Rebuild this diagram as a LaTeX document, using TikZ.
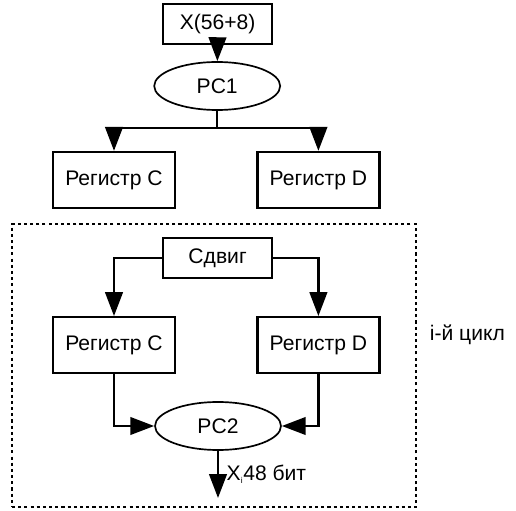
\documentclass[tikz,border=0pt]{standalone}
\usepackage{fontspec}
\setmainfont{Liberation Sans}
\usepackage{tikz}
\usetikzlibrary{shapes.geometric,arrows.meta,positioning,calc}

\begin{document}
\begin{tikzpicture}[
  box/.style={draw, line width=1.6pt, minimum width=3.05cm, minimum height=1.4cm, inner sep=0pt, align=center, font=\fontsize{15}{17}\selectfont},
  smallbox/.style={box, minimum width=2.72cm, minimum height=1.0cm},
  pcbox/.style={draw, ellipse, line width=1.2pt, minimum width=3.15cm, minimum height=1.2cm, inner sep=0pt, font=\fontsize{15}{17}\selectfont},
  roundframe/.style={draw, line width=1.4pt, dash pattern=on 2.2pt off 2.2pt, minimum width=10.1cm, minimum height=7.08cm, inner sep=0pt},
  link/.style={line width=1.7pt, -{Triangle[length=17pt,width=12.5pt]}},
  line width=1.7pt
]
\useasboundingbox (0,0) rectangle (12.9,12.75);

% -- key preparation: input, PC1, split into C and D
\node[smallbox] (xin) at (5.44,12.15) {X(56+8)};
\node[pcbox] (pc1) at (5.43,10.6) {PC1};
\node[box] (rc1) at (2.85,8.25) {Регистр C};
\node[box] (rd1) at (7.96,8.25) {Регистр D};
\coordinate (split) at (5.43,9.55);

\draw[link] (xin) -- (pc1);
\draw (pc1) -- (split);
\draw[link] (split) -| (rc1);
\draw[link] (split) -| (rd1);

% -- one round, inside the dotted frame
\node[roundframe] (round) at (5.35,3.61) {};
\node[font=\fontsize{15}{17}\selectfont, anchor=west] (roundlbl) at (10.6,4.38) {i-й цикл};

\node[smallbox] (shift) at (5.44,6.3) {Сдвиг};
\node[box] (rc2) at (2.85,4.12) {Регистр C};
\node[box] (rd2) at (7.96,4.12) {Регистр D};
\node[pcbox] (pc2) at (5.45,2.1) {PC2};
\coordinate (out) at (5.45,0.3);

\draw[link] (shift.west) -| (rc2);
\draw[link] (shift.east) -| (rd2);
\draw[link] (rc2.south) |- (pc2.west);
\draw[link] (rd2.south) |- (pc2.east);
\draw[link] (pc2) -- node[right=2pt, font=\fontsize{15}{17}\selectfont] (outlbl) {X\textsubscript{\fontsize{6}{6}\selectfont i}48 бит} (out);
\end{tikzpicture}
\end{document}
